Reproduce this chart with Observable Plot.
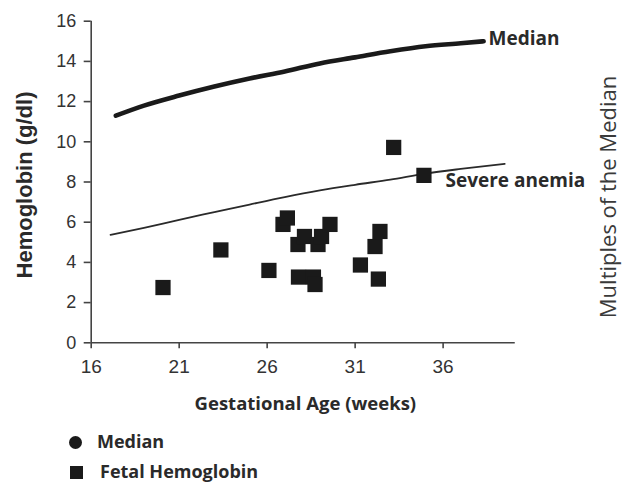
<!DOCTYPE html>
<html>
<head>
<meta charset="utf-8">
<script src="https://cdn.jsdelivr.net/npm/d3@7"></script>
<script src="https://cdn.jsdelivr.net/npm/@observablehq/plot@0.6"></script>
<style>
  html, body { margin: 0; padding: 0; background: #fff; }
  #wrap { position: relative; width: 622px; height: 484px; overflow: hidden; }
  #legend { position: absolute; left: 0; top: 0; width: 622px; height: 484px; pointer-events: none;
            font-family: "Open Sans", sans-serif; font-weight: 700; font-size: 18px; color: #2a2a2a; }
  .item { position: absolute; white-space: nowrap; line-height: 1; }
  .sw { position: absolute; background: #1a1a1a; }
</style>
</head>
<body>
<div id="wrap">
  <div id="chart"></div>
  <div id="legend"></div>
</div>
<script>
// ---- data ----
const weekTicks = [16, 21, 26, 31, 36];
const hbTicks = [0, 2, 4, 6, 8, 10, 12, 14, 16];

const medianWeeks = [17.4, 19, 21, 23, 25, 27, 29, 31, 33, 35, 37, 38.3];
const medianHb    = [11.3, 11.8, 12.3, 12.75, 13.15, 13.5, 13.9, 14.2, 14.5, 14.75, 14.9, 15.0];

const severeWeeks = [17.1, 19, 21, 23, 25, 27, 29, 31, 33, 35, 37, 39.5];
const severeHb    = [5.37, 5.72, 6.12, 6.5, 6.88, 7.25, 7.58, 7.86, 8.12, 8.42, 8.65, 8.9];

const fetalWeeks = [20.08, 23.37, 26.1, 26.9, 27.15, 27.75, 28.12, 27.78, 28.63, 28.72, 28.89, 29.09, 29.57, 31.3, 32.13, 32.41, 32.32, 33.19, 34.91];
const fetalHb    = [2.75, 4.62, 3.6, 5.89, 6.21, 4.89, 5.29, 3.27, 3.27, 2.90, 4.89, 5.29, 5.89, 3.87, 4.79, 5.54, 3.17, 9.72, 8.33];

const legendLabels = ["Median", "Fetal Hemoglobin"];

// ---- tables ----
const median = medianWeeks.map((w, i) => ({week: w, hb: medianHb[i]}));
const severe = severeWeeks.map((w, i) => ({week: w, hb: severeHb[i]}));
const fetal = fetalWeeks.map((w, i) => ({week: w, hb: fetalHb[i]}));

const bold = "'Open Sans', sans-serif";
const axisColor = "#444";

const chart = Plot.plot({
  width: 622,
  height: 422,
  marginLeft: 90.7,
  marginRight: 109,
  marginTop: 20.7,
  marginBottom: 79.7,
  style: {fontFamily: "'Liberation Sans', Arial, sans-serif", fontSize: "18px", color: "#333", background: "white", overflow: "visible"},
  x: {domain: [16, 40]},
  y: {domain: [0, 16]},
  marks: [
    Plot.ruleX([16], {y1: 0, y2: 16, stroke: axisColor, strokeWidth: 1.6}),
    Plot.ruleY([0], {x1: 16, x2: 40.1, stroke: axisColor, strokeWidth: 1.6}),
    Plot.axisY({ticks: hbTicks, tickSize: 7, tickPadding: 8, fontSize: 18, stroke: axisColor, strokeWidth: 1.6, fill: "#333", label: null}),
    Plot.axisX({ticks: weekTicks, tickSize: 6, tickPadding: 11, fontSize: 19, stroke: axisColor, strokeWidth: 1.6, fill: "#333", label: null}),
    Plot.line(severe, {x: "week", y: "hb", stroke: "#2a2a2a", strokeWidth: 1.8, curve: "monotone-x"}),
    Plot.line(median, {x: "week", y: "hb", stroke: "#1a1a1a", strokeWidth: 4.6, curve: "monotone-x", strokeLinecap: "round"}),
    Plot.dot(fetal, {x: "week", y: "hb", symbol: "square", r: 8.6, fill: "#1a1a1a", stroke: "none"}),
    Plot.text(median.slice(-1), {x: "week", y: "hb", text: () => "Median", textAnchor: "start", dx: 5, dy: -2, fontFamily: bold, fontWeight: 700, fontSize: 19, fill: "#2a2a2a"}),
    Plot.text(severe.filter(d => d.week === 35), {x: "week", y: "hb", text: () => "Severe anemia", textAnchor: "start", dx: 20, dy: 7, fontFamily: bold, fontWeight: 700, fontSize: 19, fill: "#2a2a2a"}),
    Plot.text(["Hemoglobin (g/dl)"], {frameAnchor: "left", textAnchor: "middle", dx: -66, dy: 3, rotate: -90, fontFamily: "'Liberation Sans', Arial, sans-serif", fontWeight: 700, fontSize: 22, fill: "#2a2a2a"}),
    Plot.text(["Multiples of the Median"], {frameAnchor: "right", textAnchor: "middle", dx: 95, dy: 15, rotate: -90, fontFamily: bold, fontWeight: 400, fontSize: 22, fill: "#3a3a3a"}),
    Plot.text(["Gestational Age (weeks)"], {frameAnchor: "bottom", dx: 3, dy: 67, fontFamily: bold, fontWeight: 700, fontSize: 18.5, fill: "#2a2a2a"})
  ]
});
document.getElementById("chart").appendChild(chart);

// ---- legend ----
const lg = document.getElementById("legend");
const swatches = [
  {left: 69, top: 435.5, size: 13, radius: "50%", textLeft: 97, textTop: 432},
  {left: 70, top: 466, size: 13, radius: "0", textLeft: 100, textTop: 462}
];
legendLabels.forEach((label, i) => {
  const s = swatches[i];
  const sw = document.createElement("div");
  sw.className = "sw";
  sw.style.left = s.left + "px"; sw.style.top = s.top + "px";
  sw.style.width = s.size + "px"; sw.style.height = s.size + "px";
  sw.style.borderRadius = s.radius;
  lg.appendChild(sw);
  const t = document.createElement("div");
  t.className = "item";
  t.style.left = s.textLeft + "px"; t.style.top = s.textTop + "px";
  t.textContent = label;
  lg.appendChild(t);
});
</script>
</body>
</html>
